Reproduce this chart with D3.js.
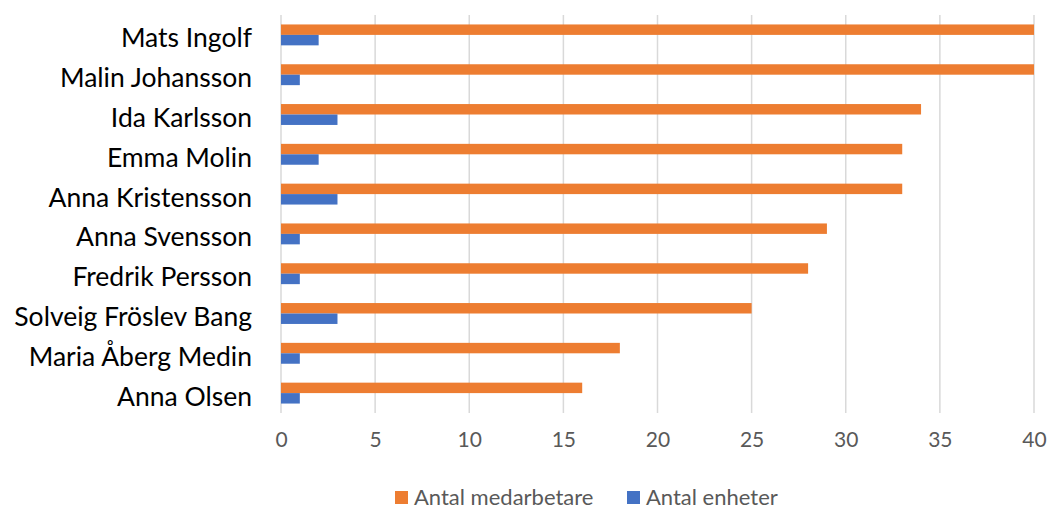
<!DOCTYPE html>
<html>
<head>
<meta charset="utf-8">
<script src="https://cdn.jsdelivr.net/npm/d3@7"></script>
<style>
  body { margin: 0; background: #fff; }
  svg text { font-family: Lato, "Open Sans", sans-serif; }
</style>
</head>
<body>
<svg width="1048" height="510"></svg>
<script>
var canvas = d3.select("svg");

var iWidth = +canvas.attr("width");
var iHeight = +canvas.attr("height");

var margin = { top: 15, right: 14, bottom: 97, left: 281 };
var iInnerWidth = iWidth - margin.left - margin.right;
var iInnerHeight = iHeight - margin.top - margin.bottom;

var colorOrange = "#ED7D31";
var colorBlue = "#4472C4";
var colorGrid = "#D9D9D9";
var colorText = "#595959";

// categories top to bottom
var names = ["Mats Ingolf", "Malin Johansson", "Ida Karlsson", "Emma Molin", "Anna Kristensson",
    "Anna Svensson", "Fredrik Persson", "Solveig Fröslev Bang", "Maria Åberg Medin", "Anna Olsen"];
var medarbetare = [40, 40, 34, 33, 33, 29, 28, 25, 18, 16];
var enheter = [2, 1, 3, 2, 3, 1, 1, 3, 1, 1];
var seriesNames = ["Antal medarbetare", "Antal enheter"];
var xTicks = [0, 5, 10, 15, 20, 25, 30, 35, 40];

var xScale = d3.scaleLinear()
    .domain([0, 40])
    .range([0, iInnerWidth]);

var yScale = d3.scaleBand()
    .domain(names)
    .range([0, iInnerHeight])
    .paddingInner(0.475)
    .paddingOuter(0.2375);

var subScale = d3.scaleBand()
    .domain(seriesNames)
    .range([0, yScale.bandwidth()]);

var parentGroup = canvas.append("g")
    .attr("transform", `translate(${margin.left},${margin.top})`);

// gridlines
parentGroup.append("g")
    .selectAll("line")
    .data(xTicks)
    .enter()
    .append("line")
    .attr("x1", d => xScale(d))
    .attr("x2", d => xScale(d))
    .attr("y1", 0)
    .attr("y2", iInnerHeight)
    .attr("stroke", colorGrid)
    .attr("stroke-width", 1.5);

var rows = names.map((n, i) => ({ name: n, vals: [medarbetare[i], enheter[i]] }));

var groups = parentGroup.selectAll("g.row")
    .data(rows)
    .enter()
    .append("g")
    .attr("class", "row")
    .attr("transform", d => `translate(0,${yScale(d.name)})`);

groups.append("rect")
    .attr("x", xScale(0))
    .attr("y", subScale(seriesNames[0]))
    .attr("height", subScale.bandwidth())
    .attr("width", d => xScale(d.vals[0]))
    .attr("fill", colorOrange);

groups.append("rect")
    .attr("x", xScale(0))
    .attr("y", subScale(seriesNames[1]))
    .attr("height", subScale.bandwidth())
    .attr("width", d => xScale(d.vals[1]))
    .attr("fill", colorBlue);

// y axis labels
var yAxis = parentGroup.append("g")
    .attr("transform", "translate(0,4)")
    .call(d3.axisLeft(yScale).tickSize(0).tickPadding(29));
yAxis.select(".domain").remove();
yAxis.selectAll("text")
    .style("font-size", "26.5px")
    .style("font-family", "Lato, 'Open Sans', sans-serif")
    .attr("fill", "#000");

// x axis labels
var xAxis = parentGroup.append("g")
    .attr("transform", `translate(0,${iInnerHeight})`)
    .call(d3.axisBottom(xScale).tickValues(xTicks).tickSize(0).tickPadding(19));
xAxis.select(".domain").remove();
xAxis.selectAll("text")
    .style("font-size", "21px")
    .style("font-family", "Lato, 'Open Sans', sans-serif")
    .attr("fill", colorText);

// legend
var legend = canvas.append("g").attr("transform", "translate(0,497)");
var legendX = [395, 627];
var legendColors = [colorOrange, colorBlue];
seriesNames.forEach((s, i) => {
    legend.append("rect")
        .attr("x", legendX[i])
        .attr("y", -6)
        .attr("width", 13)
        .attr("height", 13)
        .attr("fill", legendColors[i]);
    legend.append("text")
        .attr("x", legendX[i] + 19)
        .attr("y", 0)
        .attr("dy", "0.35em")
        .style("font-size", "22px")
        .attr("fill", colorText)
        .text(s);
});
</script>
</body>
</html>
